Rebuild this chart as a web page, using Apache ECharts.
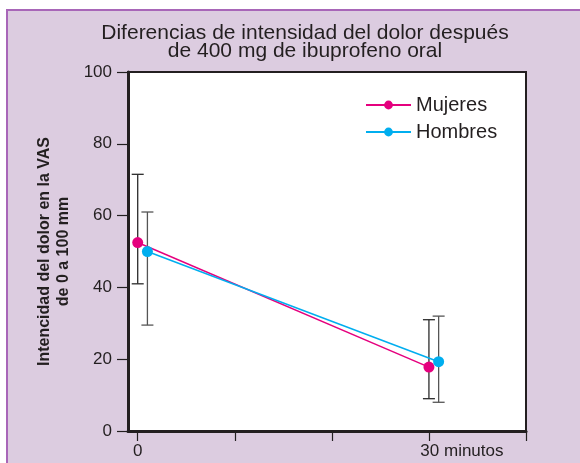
<!DOCTYPE html>
<html>
<head>
<meta charset="utf-8">
<script src="https://cdn.jsdelivr.net/npm/echarts@6/dist/echarts.min.js"></script>
<style>
  html, body { margin: 0; padding: 0; background: #ffffff; }
  #bg { position: absolute; left: 6px; top: 9px; right: 0; bottom: 0;
        background: #dccce0; border-top: 2px solid #a866b8; border-left: 2px solid #a866b8; }
  #chart { position: absolute; left: 0; top: 0; width: 580px; height: 463px; }
</style>
</head>
<body>
<div id="bg"></div>
<div id="chart"></div>
<script>
// minutos de medida
var tiempos = [0, 30];
var desplazamientoHombres = 1; // los hombres se dibujan un poco a la derecha

var mujeres = [52.5, 17.8];
var mujeresAlto = [71.5, 31];
var mujeresBajo = [41, 9];

var hombres = [50, 19.3];
var hombresAlto = [61, 32];
var hombresBajo = [29.5, 8];

var xTicks = [0, 10, 20, 30, 40];
var xEtiquetas = {0: '0', 30: '30 minutos'};

var ink = '#231f20';
var rosa = '#e5007e';
var azul = '#00aeef';

function puntos(vals, dx) {
    var out = [];
    for (var i = 0; i < vals.length; i++) {
        out.push([tiempos[i] + dx, vals[i]]);
    }
    return out;
}
function barras(alto, bajo, dx) {
    var out = [];
    for (var i = 0; i < alto.length; i++) {
        out.push([tiempos[i] + dx, bajo[i], alto[i]]);
    }
    return out;
}
function dibujaBarra(color) {
    return function (params, api) {
        var lo = api.coord([api.value(0), api.value(1)]);
        var hi = api.coord([api.value(0), api.value(2)]);
        var w = 6;
        var st = {stroke: color, lineWidth: 1.3};
        return {
            type: 'group',
            children: [
                {type: 'line', shape: {x1: lo[0], y1: lo[1], x2: hi[0], y2: hi[1]}, style: st},
                {type: 'line', shape: {x1: lo[0] - w, y1: lo[1], x2: lo[0] + w, y2: lo[1]}, style: st},
                {type: 'line', shape: {x1: hi[0] - w, y1: hi[1], x2: hi[0] + w, y2: hi[1]}, style: st}
            ]
        };
    };
}

var myChart = echarts.init(document.getElementById('chart'));
var option = {
    backgroundColor: 'transparent',
    animation: false,
    textStyle: {fontFamily: 'Liberation Sans, Arial, sans-serif'},
    title: {
        text: 'Diferencias de intensidad del dolor después\nde 400 mg de ibuprofeno oral',
        left: 300,
        top: 19,
        textAlign: 'center',
        textStyle: {fontSize: 21, fontWeight: 'normal', color: ink, lineHeight: 18,
                    fontFamily: 'Liberation Sans, Arial, sans-serif'}
    },
    legend: {
        data: ['Mujeres', 'Hombres'],
        orient: 'vertical',
        left: 360,
        top: 90,
        itemWidth: 45,
        itemHeight: 11,
        itemGap: 7,
        textStyle: {fontSize: 20, color: ink}
    },
    grid: {
        left: 128, right: 54, top: 72, bottom: 32,
        show: true, backgroundColor: '#ffffff',
        borderColor: ink, borderWidth: 2
    },
    xAxis: {
        type: 'value',
        min: -1,
        max: 40,
        splitLine: {show: false},
        axisLine: {show: true, onZero: false, lineStyle: {color: ink, width: 3}},
        axisTick: {show: true, length: 10, customValues: xTicks, lineStyle: {color: ink, width: 1.2}},
        axisLabel: {
            customValues: tiempos,
            margin: 12,
            fontSize: 17,
            color: ink,
            formatter: function (v) {
                if (v === 30) return '{g|}' + xEtiquetas[v];
                return xEtiquetas[v] || '';
            },
            rich: {g: {width: 66}}
        }
    },
    yAxis: {
        type: 'value',
        min: 0,
        max: 100,
        interval: 20,
        name: 'Intencidad del dolor en la VAS\nde 0 a 100 mm',
        nameLocation: 'middle',
        nameRotate: 90,
        nameGap: 49,
        nameTextStyle: {fontSize: 16, fontWeight: 'bold', color: ink, lineHeight: 19},
        splitLine: {show: false},
        axisLine: {show: true, onZero: false, lineStyle: {color: ink, width: 3}},
        axisTick: {show: true, inside: false, length: 11, lineStyle: {color: ink, width: 1.2}},
        axisLabel: {margin: 16, fontSize: 17, color: ink}
    },
    series: [
        {
            name: 'barrasMujeres',
            type: 'custom',
            renderItem: dibujaBarra('#2b2b2b'),
            data: barras(mujeresAlto, mujeresBajo, 0),
            z: 1
        },
        {
            name: 'barrasHombres',
            type: 'custom',
            renderItem: dibujaBarra('#555555'),
            data: barras(hombresAlto, hombresBajo, desplazamientoHombres),
            z: 1
        },
        {
            name: 'Mujeres',
            type: 'line',
            data: puntos(mujeres, 0),
            symbol: 'circle',
            symbolSize: 11,
            itemStyle: {color: rosa},
            lineStyle: {color: rosa, width: 1.5},
            z: 3
        },
        {
            name: 'Hombres',
            type: 'line',
            data: puntos(hombres, desplazamientoHombres),
            symbol: 'circle',
            symbolSize: 11,
            itemStyle: {color: azul},
            lineStyle: {color: azul, width: 1.5},
            z: 4
        }
    ]
};
myChart.setOption(option);
</script>
</body>
</html>
